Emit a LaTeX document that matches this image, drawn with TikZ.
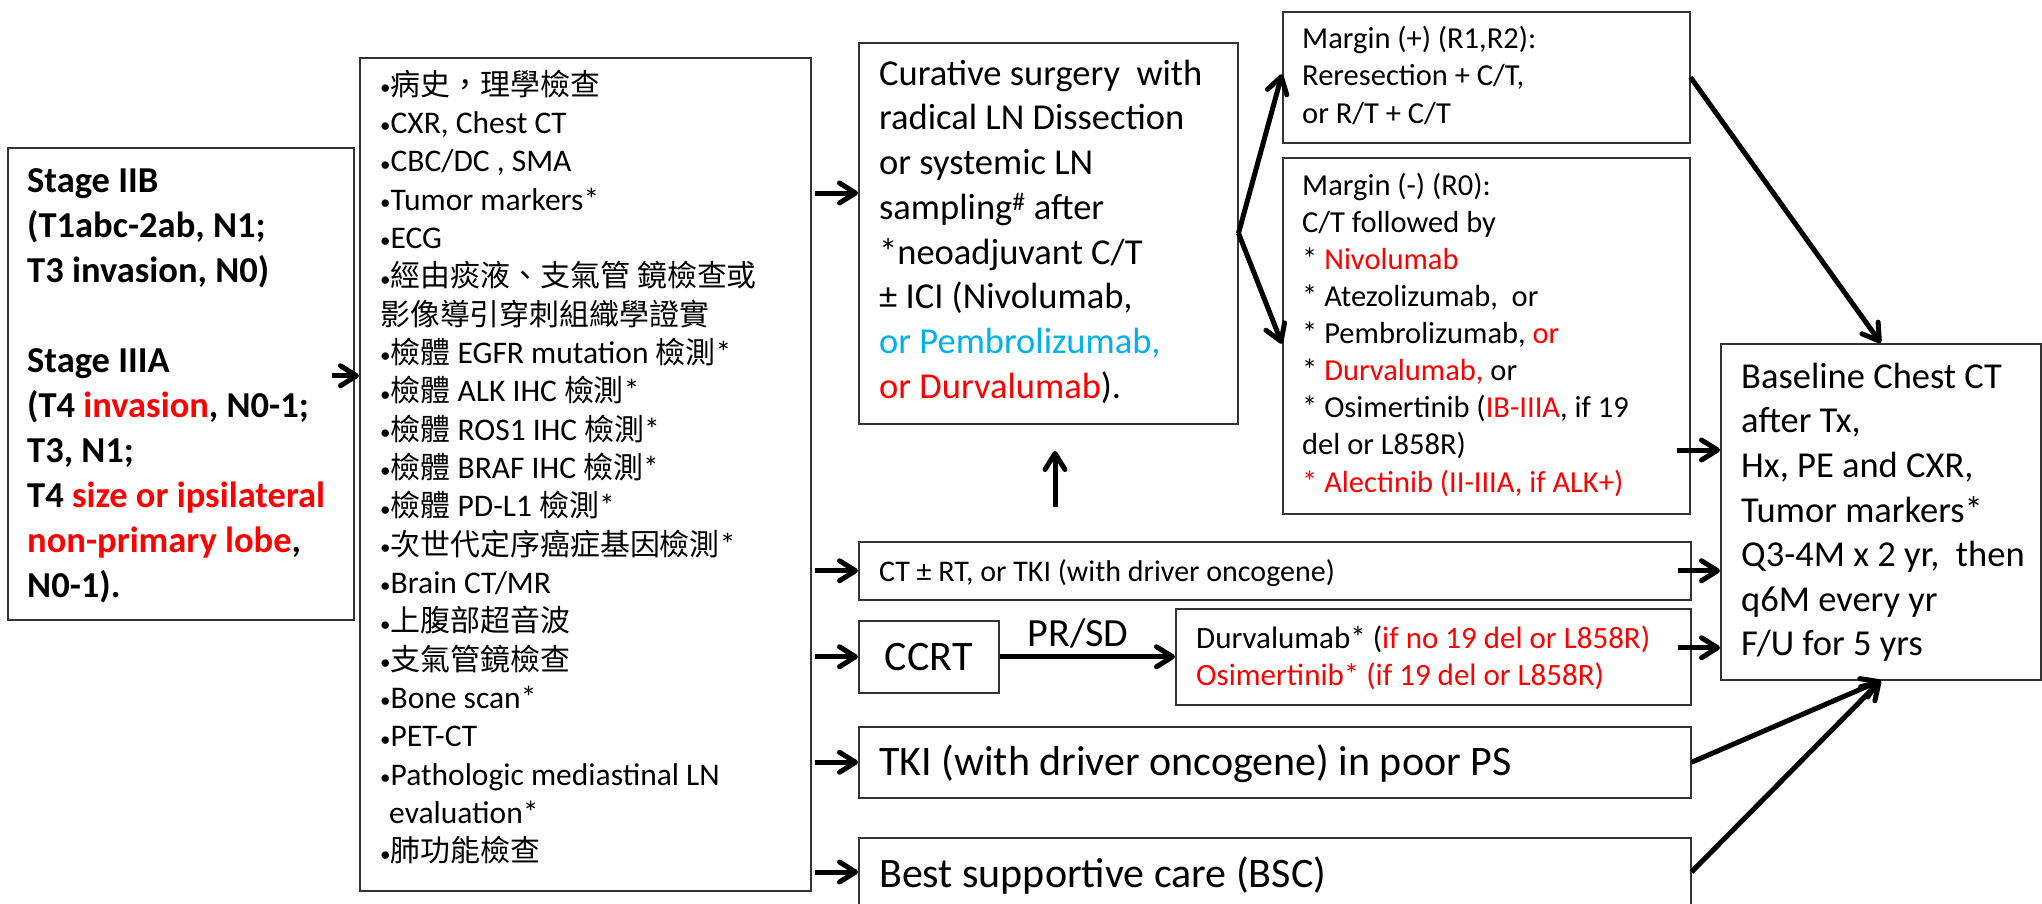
\documentclass[tikz,border=0pt]{standalone}
\usepackage{fontspec}
\setmainfont{Carlito}
\newfontfamily\cjkfont[Scale=0.95]{Noto Sans CJK TC}
\newcommand\zhtxt[1]{{\cjkfont #1}}
\usetikzlibrary{arrows.meta}
\definecolor{hred}{RGB}{255,0,0}
\definecolor{hblue}{RGB}{0,176,240}
\newcommand\fs[2]{\fontsize{#1pt}{#2pt}\selectfont}
\newcommand\lead[1]{\rule{0pt}{#1pt}}
% small list bullet
\newcommand\bul{\raisebox{0.8pt}{\fontsize{21pt}{0pt}\selectfont •}}
\tikzset{
  box/.style={draw=black!80, line width=1.5pt, inner sep=0pt, anchor=north west},
  txt/.style={anchor=north west, inner sep=0pt, align=left},
  arr/.style={line width=5pt, -{Straight Barb[length=16pt,width=20pt,round]}},
}
\begin{document}
\begin{tikzpicture}[x=1pt,y=-1pt]
\useasboundingbox (0,0) rectangle (2042,903);

% boxes
\node[box, minimum width=346pt, minimum height=472pt] (stage)  at (7,147) {};
\node[box, minimum width=451pt, minimum height=833pt] (workup) at (359,57) {};
\node[box, minimum width=379pt, minimum height=381pt] (cure)   at (858,42) {};
\node[box, minimum width=407pt, minimum height=131pt] (mplus)  at (1282,11) {};
\node[box, minimum width=407pt, minimum height=356pt] (mminus) at (1282,157) {};
\node[box, minimum width=832pt, minimum height=58pt]  (ctrt)   at (858,541) {};
\node[box, minimum width=140pt, minimum height=72pt]  (ccrt)   at (858,620) {};
\node[box, minimum width=515pt, minimum height=96pt]  (durva)  at (1175,608) {};
\node[box, minimum width=832pt, minimum height=71pt]  (tki)    at (858,726) {};
\node[box, minimum width=832pt, minimum height=70pt]  (bsc)    at (858,837) {};
\node[box, minimum width=320pt, minimum height=336pt] (base)   at (1720,343) {};

% texts
\node[txt, font=\fs{36.5}{45}\bfseries] (stagetxt) at (27,159.15) {\lead{32.85}Stage IIB\\
(T1abc-2ab, N1;\\
T3 invasion, N0)\\
\mbox{}\\
Stage IIIA\\
(T4 \textcolor{hred}{invasion}, N0-1;\\
T3, N1;\\
T4 \textcolor{hred}{size or ipsilateral}\\
\textcolor{hred}{non-primary lobe},\\
N0-1).};

\node[txt, font=\fs{31.5}{38.33}] (worktxt) at (380,66.65) {\lead{28.35}\bul\zhtxt{病史，理學檢查}\\
\bul CXR, Chest CT\\
\bul CBC/DC , SMA\\
\bul Tumor markers*\\
\bul ECG\\
\bul\zhtxt{經由痰液、支氣管} \zhtxt{鏡檢查或}\\
\zhtxt{影像導引穿刺組織學證實}\\
\bul\zhtxt{檢體} EGFR mutation \zhtxt{檢測}*\\
\bul\zhtxt{檢體} ALK IHC \zhtxt{檢測}*\\
\bul\zhtxt{檢體} ROS1 IHC \zhtxt{檢測}*\\
\bul\zhtxt{檢體} BRAF IHC \zhtxt{檢測}*\\
\bul\zhtxt{檢體} PD-L1 \zhtxt{檢測}*\\
\bul\zhtxt{次世代定序癌症基因檢測}*\\
\bul Brain CT/MR\\
\bul\zhtxt{上腹部超音波}\\
\bul\zhtxt{支氣管鏡檢查}\\
\bul Bone scan*\\
\bul PET-CT\\
\bul Pathologic mediastinal LN\\
\hspace*{9pt}evaluation*\\
\bul\zhtxt{肺功能檢查}};

\node[txt, font=\fs{36.5}{44.7}] (curetxt) at (879,52.15) {\lead{32.85}Curative surgery\ \ with\\
radical LN Dissection\\
or systemic LN\\
sampling\textsuperscript{\#} after\\
*neoadjuvant C/T\\
± ICI (Nivolumab,\\
\textcolor{hblue}{or Pembrolizumab,}\\
\textcolor{hred}{or Durvalumab}).};

\node[txt, font=\fs{30.5}{37.5}] (mplustxt) at (1302,20.55) {\lead{27.45}Margin (+) (R1,R2):\\
Reresection + C/T,\\
or R/T + C/T};

\node[txt, font=\fs{30.5}{37.1}] (mminustxt) at (1302,167.55) {\lead{27.45}Margin (-) (R0):\\
C/T followed by\\
* \textcolor{hred}{Nivolumab}\\
* Atezolizumab,\ \ or\\
* Pembrolizumab, \textcolor{hred}{or}\\
* \textcolor{hred}{Durvalumab,} or\\
* Osimertinib (\textcolor{hred}{IB-IIIA}, if 19\\
del or L858R)\\
\textcolor{hred}{* Alectinib (II-IIIA, if ALK+)}};

\node[txt, anchor=base west, font=\fs{30}{36}] (ctrttxt) at (879,581) {CT ± RT, or TKI (with driver oncogene)};
\node[font=\fs{42}{50}, inner sep=0pt] (ccrttxt) at (ccrt.center) {CCRT};
\node[txt, font=\fs{31}{37}] (durvatxt) at (1196,620.1) {\lead{27.9}Durvalumab* (\textcolor{hred}{if no 19 del or L858R)}\\
\textcolor{hred}{Osimertinib* (if 19 del or L858R)}};
\node[txt, anchor=base west, font=\fs{42}{50}] (tkitxt) at (879,775) {TKI (with driver oncogene) in poor PS};
\node[txt, anchor=base west, font=\fs{42}{50}] (bsctxt) at (879,887) {Best supportive care (BSC)};

\node[txt, font=\fs{36.5}{44.6}] (basetxt) at (1741,355.15) {\lead{32.85}Baseline Chest CT\\
after Tx,\\
Hx, PE and CXR,\\
Tumor markers*\\
Q3-4M x 2 yr,\ \ then\\
q6M every yr\\
F/U for 5 yrs};

% row heights used by the connectors
\coordinate (r193) at (0,193);
\coordinate (r450) at (0,450);
\coordinate (r872) at (0,872);
\coordinate (upfrom) at (1055,507);
\coordinate (upto) at (1055,451);

% connectors
\draw[arr] ([xshift=-23pt,yshift=8pt]stage.east) -- ([yshift=8pt]stage.east -| workup.west);
\draw[arr] ([xshift=3pt]workup.east |- r193) -- (cure.west |- r193);
\draw[arr] ([xshift=3pt]workup.east |- ctrt.west) -- (ctrt.west);
\draw[arr] ([xshift=3pt]workup.east |- ccrt.west) -- (ccrt.west);
\draw[arr] ([xshift=3pt]workup.east |- tki.west) -- (tki.west);
\draw[arr] ([xshift=3pt]workup.east |- r872) -- (bsc.west |- r872);
\draw[arr] (upfrom) -- (upto);
\draw[arr] (cure.east) -- ([yshift=3pt]mplus.west);
\draw[arr] (cure.east) -- ([yshift=-8pt]mminus.west);
\draw[arr] (mplus.east) -- (base.north);
\draw[arr] ([xshift=-14pt]mminus.east |- r450) -- (base.west |- r450);
\draw[arr] ([xshift=-14pt]ctrt.east) -- (ctrt.east -| base.west);
\draw[arr] ([xshift=-14pt,yshift=9pt]durva.east) -- ([yshift=9pt]durva.east -| base.west);
\draw[arr] (tki.east) -- (base.south);
\draw[arr] (bsc.east |- r872) -- (base.south);
\draw[arr] (ccrt.east) -- (ccrt.east -| durva.west);
\node[anchor=base, font=\fs{40}{48}, inner sep=0pt] (prsd) at (1078,646) {PR/SD};
\end{tikzpicture}
\end{document}
